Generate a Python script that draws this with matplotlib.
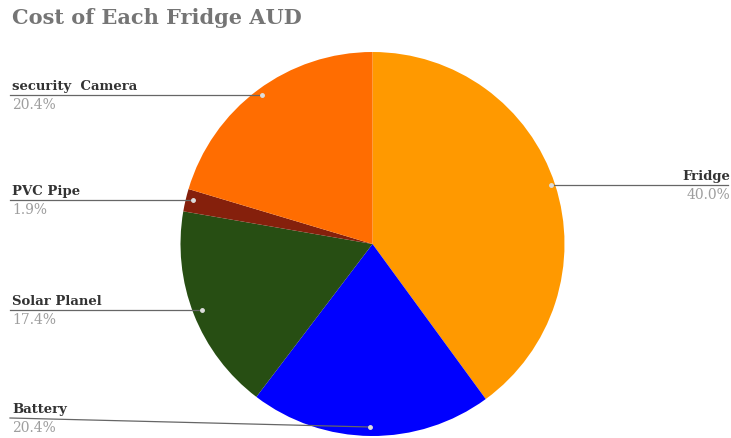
import matplotlib.pyplot as plt

labels = ["Fridge", "Battery", "Solar Planel", "PVC Pipe", "security  Camera"]
values = [40.0, 20.4, 17.4, 1.9, 20.4]
colors = ["#ff9900", "#0000ff", "#274e13", "#85200c", "#ff6d01"]
pct_text = ["40.0%", "20.4%", "17.4%", "1.9%", "20.4%"]

W, H = 731, 439
fig = plt.figure(figsize=(W / 100, H / 100), dpi=100)
ax = fig.add_axes([0, 0, 1, 1])

cx, cy, r = 372.5, H - 245, 192
ax.pie(values, colors=colors, startangle=90, counterclock=False,
       center=(cx, cy), radius=r, frame=True,
       wedgeprops=dict(linewidth=0))
ax.set_xlim(0, W)
ax.set_ylim(0, H)
ax.axis("off")

serif = ["DejaVu Serif"]
fig.text(12 / W, 1 - 18 / H, "Cost of Each Fridge AUD", family=serif,
         fontsize=15, fontweight="bold", color="#757575", va="center")

# leader lines: (dot x, dot y, line end x, line y, label side)
leaders = {
    "Fridge": (551, 186, 728, 186, "right"),
    "Battery": (370, 428, 10, 419, "left"),
    "Solar Planel": (202, 311, 10, 311, "left"),
    "PVC Pipe": (193, 201, 10, 201, "left"),
    "security  Camera": (262, 96, 10, 96, "left"),
}

for lab, pct in zip(labels, pct_text):
    dx, dy, ex, ly, side = leaders[lab]
    ax.plot([dx, ex], [H - dy, H - ly], color="#666666", lw=0.9, zorder=3)
    ax.plot([dx], [H - dy], marker="o", ms=2.5, color="#dddddd", zorder=4)
    if side == "left":
        tx, ha = 12, "left"
    else:
        tx, ha = 730, "right"
    ax.text(tx, H - ly + 3, lab, family=serif, fontsize=9.5, fontweight="bold",
            color="#333333", ha=ha, va="bottom")
    ax.text(tx, H - ly - 2, pct, family=serif, fontsize=10,
            color="#9e9e9e", ha=ha, va="top")

fig.savefig("out.png", dpi=100)
